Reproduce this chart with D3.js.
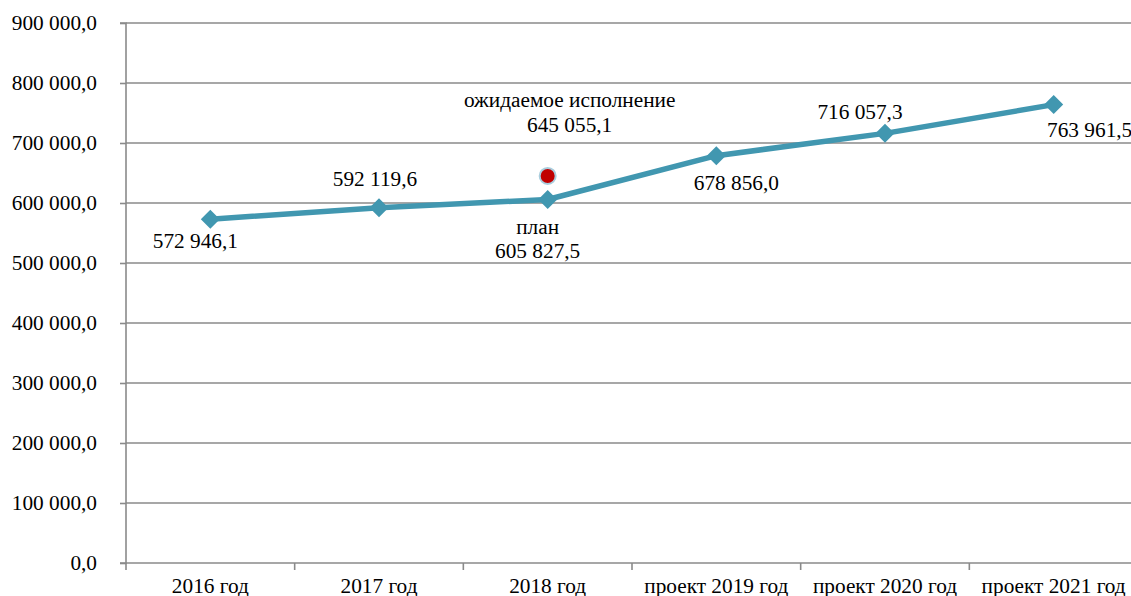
<!DOCTYPE html>
<html>
<head>
<meta charset="utf-8">
<script src="https://cdn.jsdelivr.net/npm/d3@7"></script>
<style>
  body { margin: 0; background: #fff; }
  text { font-family: "Liberation Serif", "Times New Roman", serif; fill: #000; }
</style>
</head>
<body>
<div id="chart"></div>
<script>
const categories = ["2016 год", "2017 год", "2018 год", "проект 2019 год", "проект 2020 год", "проект 2021 год"];
const values = [572946.1, 592119.6, 605827.5, 678856.0, 716057.3, 763961.5];
const pointLabels = [["572 946,1"], ["592 119,6"], ["план", "605 827,5"], ["678 856,0"], ["716 057,3"], ["763 961,5"]];
const expectedCategory = "2018 год";
const expectedValue = 645055.1;
const expectedLabel = ["ожидаемое исполнение", "645 055,1"];
const yTicks = [0, 100000, 200000, 300000, 400000, 500000, 600000, 700000, 800000, 900000];

// label offsets from each point (px): [dx, dy of first line]
const labelOffsets = [[-15, 29], [-4, -22], [-10, 34], [20, 34], [-25, -14], [36, 32]];

const width = 1131;
const height = 596;
const mLeft = 126, mRight = 1138, mTop = 23, mBottom = 563;
const fontSize = 21.3;
const serif = "'Liberation Serif', 'Times New Roman', serif";
const lineColor = "#4197b0";
const gridColor = "#8a8a8a";

const svg = d3.select("#chart")
  .append("svg")
  .attr("width", width)
  .attr("height", height)
  .style("font-family", serif);

const x = d3.scaleBand().domain(categories).range([mLeft, mRight]);
const y = d3.scaleLinear().domain([0, 900000]).range([mBottom, mTop]);
const fmt = v => d3.format(",.1f")(v).replace(/,/g, " ").replace(".", ",");

// gridlines
svg.append("g")
  .selectAll("line")
  .data(yTicks.filter(d => d > 0))
  .enter().append("line")
  .attr("x1", mLeft).attr("x2", width)
  .attr("y1", d => y(d)).attr("y2", d => y(d))
  .attr("stroke", gridColor).attr("stroke-width", 1.6);

// y axis
const yAxis = d3.axisLeft(y).tickValues(yTicks).tickSize(6).tickPadding(23).tickFormat(fmt);
const gy = svg.append("g").attr("transform", `translate(${mLeft},0)`).call(yAxis)
  .attr("font-family", null);
gy.selectAll("line, path").attr("stroke", gridColor).attr("stroke-width", 1.6);
gy.select(".domain").attr("d", `M-6,${mBottom}H0V${mTop}H-6`);
gy.selectAll("text").style("font-size", fontSize + "px").attr("fill", "#000")
  .style("font-family", serif);

// x axis
const gx = svg.append("g").attr("transform", `translate(0,${mBottom})`);
gx.append("line").attr("x1", mLeft).attr("x2", width).attr("y1", 0).attr("y2", 0)
  .attr("stroke", gridColor).attr("stroke-width", 1.6);
gx.selectAll(".tick")
  .data(categories)
  .enter().append("line")
  .attr("x1", d => x(d)).attr("x2", d => x(d))
  .attr("y1", 0).attr("y2", 7)
  .attr("stroke", gridColor).attr("stroke-width", 1.6);
gx.selectAll(".lbl")
  .data(categories)
  .enter().append("text")
  .attr("x", d => x(d) + x.bandwidth() / 2)
  .attr("y", 30)
  .attr("text-anchor", "middle")
  .style("font-size", fontSize + "px")
  .text(d => d);

// line
const cx = d => x(d) + x.bandwidth() / 2;
const line = d3.line().x(d => cx(d[0])).y(d => y(d[1]));
const pts = categories.map((c, i) => [c, values[i]]);
svg.append("path")
  .datum(pts)
  .attr("d", line)
  .attr("fill", "none")
  .attr("stroke", lineColor)
  .attr("stroke-width", 5.5)
  .attr("stroke-linejoin", "round");

// diamonds
svg.selectAll(".marker")
  .data(pts)
  .enter().append("path")
  .attr("d", d => {
    const px = cx(d[0]), py = y(d[1]), r = 9.5;
    return `M${px},${py - r}L${px + r},${py}L${px},${py + r}L${px - r},${py}Z`;
  })
  .attr("fill", lineColor);

// expected-value dot
svg.append("circle")
  .attr("cx", cx(expectedCategory))
  .attr("cy", y(expectedValue))
  .attr("r", 8)
  .attr("fill", "#c00000")
  .attr("stroke", "#a9cddd")
  .attr("stroke-width", 2);

// point labels
pts.forEach((d, i) => {
  const t = svg.append("text")
    .attr("text-anchor", "middle")
    .style("font-size", fontSize + "px");
  pointLabels[i].forEach((s, j) => {
    t.append("tspan")
      .attr("x", cx(d[0]) + labelOffsets[i][0])
      .attr("y", y(d[1]) + labelOffsets[i][1] + j * 24)
      .text(s);
  });
});

const et = svg.append("text")
  .attr("text-anchor", "middle")
  .style("font-size", fontSize + "px");
expectedLabel.forEach((s, j) => {
  et.append("tspan")
    .attr("x", cx(expectedCategory) + 22)
    .attr("y", y(expectedValue) - 69 + j * 25)
    .text(s);
});
</script>
</body>
</html>
